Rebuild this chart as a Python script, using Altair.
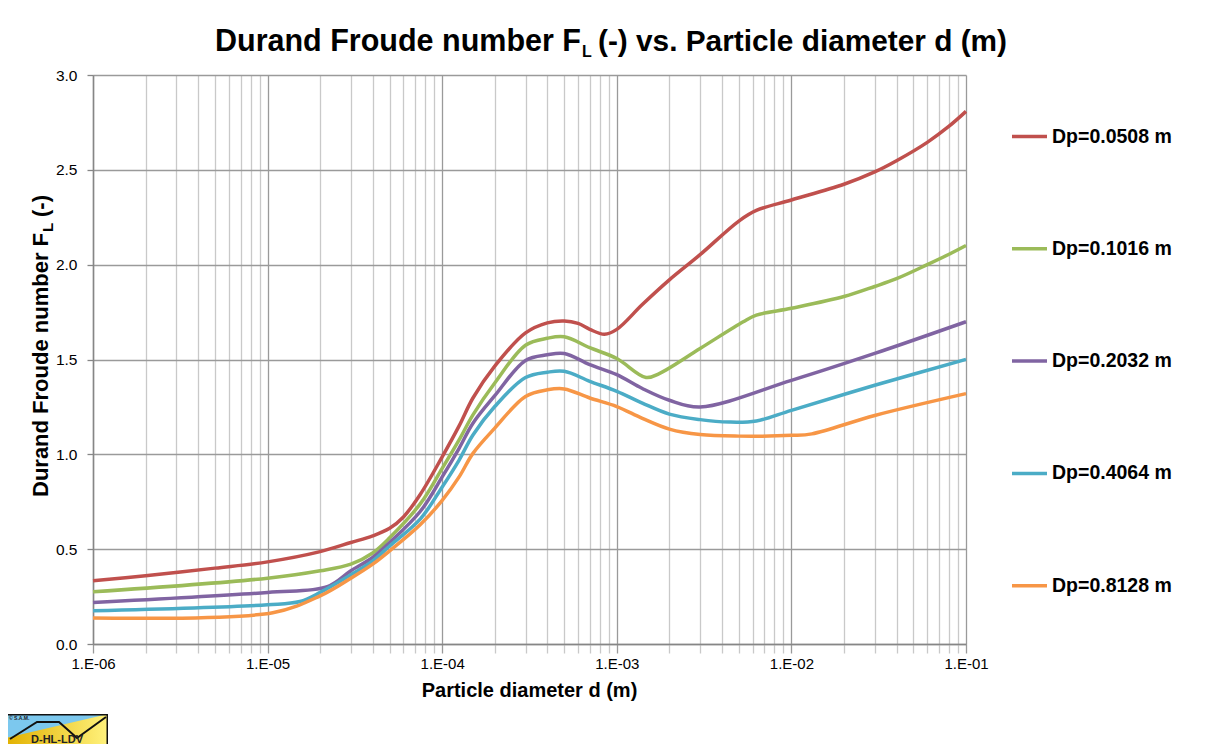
import base64
import altair as alt
import pandas as pd

# ---------------- data ----------------
series_names = ["Dp=0.0508 m", "Dp=0.1016 m", "Dp=0.2032 m", "Dp=0.4064 m", "Dp=0.8128 m"]
series_colors = ["#C0504D", "#9BBB59", "#8064A2", "#4BACC6", "#F79646"]

d_0508 = [1e-6, 2e-6, 5e-6, 1e-5, 2e-5, 3e-5, 4e-5, 5e-5, 6e-5, 7.5e-5, 1e-4, 1.25e-4,
          1.5e-4, 2e-4, 3e-4, 4e-4, 5e-4, 6e-4, 7e-4, 8.5e-4, 1e-3, 1.4e-3, 2e-3, 3e-3,
          5e-3, 6.3e-3, 1e-2, 2e-2, 3e-2, 4e-2, 6e-2, 8e-2, 1e-1]
F_0508 = [0.333, 0.36, 0.40, 0.433, 0.487, 0.535, 0.57, 0.61, 0.67, 0.79, 0.987, 1.15,
          1.297, 1.465, 1.64, 1.693, 1.703, 1.69, 1.659, 1.633, 1.659, 1.79, 1.92, 2.053,
          2.23, 2.286, 2.341, 2.424, 2.489, 2.548, 2.645, 2.73, 2.808]

d_1016 = [1e-6, 1e-5, 2e-5, 3e-5, 4e-5, 5e-5, 7.5e-5, 1e-4, 1.25e-4, 1.5e-4, 2e-4, 3e-4,
          4e-4, 5e-4, 7e-4, 1e-3, 1.47e-3, 1.75e-3, 3e-3, 5.3e-3, 6.3e-3, 1e-2, 2e-2,
          3e-2, 4e-2, 6e-2, 8e-2, 1e-1]
F_1016 = [0.275, 0.347, 0.386, 0.421, 0.48, 0.56, 0.74, 0.926, 1.076, 1.208, 1.376, 1.575,
          1.612, 1.62, 1.562, 1.505, 1.405, 1.426, 1.558, 1.699, 1.734, 1.770, 1.832,
          1.885, 1.926, 2.000, 2.055, 2.101]

d_2032 = [1e-6, 1e-5, 2.2e-5, 3e-5, 4e-5, 5e-5, 7.5e-5, 1e-4, 1.25e-4, 1.5e-4, 2e-4, 3e-4,
          4e-4, 5e-4, 7e-4, 1e-3, 1.4e-3, 2e-3, 3e-3, 1e-2, 3e-2, 1e-1]
F_2032 = [0.219, 0.272, 0.302, 0.386, 0.456, 0.535, 0.70, 0.881, 1.032, 1.164, 1.309, 1.495,
          1.525, 1.532, 1.473, 1.42, 1.347, 1.285, 1.25, 1.39, 1.532, 1.699]

d_4064 = [1e-6, 1e-5, 1.53e-5, 2e-5, 3e-5, 4e-5, 5e-5, 7.5e-5, 1e-4, 1.25e-4, 1.5e-4, 2e-4,
          3e-4, 4e-4, 5e-4, 7e-4, 1e-3, 1.4e-3, 2e-3, 3e-3, 4.4e-3, 6.3e-3, 1e-2, 3e-2, 1e-1]
F_4064 = [0.175, 0.207, 0.224, 0.272, 0.365, 0.438, 0.517, 0.66, 0.828, 0.97, 1.102, 1.252,
          1.405, 1.433, 1.438, 1.385, 1.332, 1.27, 1.212, 1.183, 1.17, 1.176, 1.232, 1.364, 1.501]

d_8128 = [1e-6, 1.07e-5, 2e-5, 3e-5, 4e-5, 5e-5, 7.5e-5, 1e-4, 1.25e-4, 1.5e-4, 2e-4, 3e-4,
          4e-4, 5e-4, 7e-4, 1e-3, 1.4e-3, 2e-3, 3e-3, 5e-3, 1e-2, 1.31e-2, 3e-2, 1e-1]
F_8128 = [0.137, 0.165, 0.254, 0.347, 0.421, 0.491, 0.63, 0.757, 0.881, 1.005, 1.138, 1.305,
          1.34, 1.345, 1.297, 1.252, 1.19, 1.133, 1.104, 1.096, 1.10, 1.108, 1.205, 1.32]

x_major = [1e-6, 1e-5, 1e-4, 1e-3, 1e-2, 1e-1]
x_minor = [m * 10.0 ** e for e in range(-6, -1) for m in range(2, 10)]
y_ticks = [0.0, 0.5, 1.0, 1.5, 2.0, 2.5, 3.0]

title_main, title_sub, title_rest = "Durand Froude number F", "L", "(-) vs. Particle diameter d (m)"
ytitle_main, ytitle_sub, ytitle_rest = "Durand Froude number F", "L", "(-)"
xtitle = "Particle diameter d (m)"

# ---------------- table ----------------
rows = []
for name, ds, fs in zip(series_names,
                        [d_0508, d_1016, d_2032, d_4064, d_8128],
                        [F_0508, F_1016, F_2032, F_4064, F_8128]):
    for i, (d, f) in enumerate(zip(ds, fs)):
        rows.append({"series": name, "d": d, "F": f, "order": i})
df = pd.DataFrame(rows)

FONT = "Liberation Sans"
W, H = 873, 569
MAJOR = "#9a9a9a"
MINOR = "#c9c9c9"

is_decade = "abs(log(datum.value)/LN10 - round(log(datum.value)/LN10)) < 0.001"
x_label_expr = (f"{is_decade} ? '1.E-' + pad(toString(-round(log(datum.value)/LN10)), 2, '0', 'left') : ''")

x_axis = alt.Axis(
    values=sorted(x_major + x_minor),
    labelExpr=x_label_expr,
    title=None,
    grid=True,
    gridColor={"condition": {"test": is_decade, "value": MAJOR}, "value": MINOR},
    gridWidth=1.3,
    tickColor={"condition": {"test": is_decade, "value": MAJOR}, "value": MINOR},
    tickSize=9, tickWidth=1.3,
    domainColor="#868686", domainWidth=1.5,
    labelFont=FONT, labelFontSize=15, labelColor="#000000",
    labelPadding=3, labelFlush=False, labelOverlap=False,
)
y_axis = alt.Axis(
    values=y_ticks, format=".1f", title=None,
    grid=True, gridColor=MAJOR, gridWidth=1.3,
    tickColor="#868686", tickSize=6, tickWidth=1.3,
    domainColor="#868686", domainWidth=1.5,
    labelFont=FONT, labelFontSize=15.5, labelColor="#000000", labelPadding=10,
)

lines = alt.Chart(df).mark_line(strokeWidth=3.5, interpolate="catmull-rom").encode(
    x=alt.X("d:Q", scale=alt.Scale(type="log", domain=[1e-6, 1e-1], nice=False), axis=x_axis),
    y=alt.Y("F:Q", scale=alt.Scale(domain=[0, 3], nice=False), axis=y_axis),
    color=alt.Color(
        "series:N", sort=series_names,
        scale=alt.Scale(domain=series_names, range=series_colors),
        legend=alt.Legend(
            title=None, orient="none", legendX=917, legendY=42, direction="vertical",
            symbolType="stroke", symbolSize=1225, symbolStrokeWidth=3.5,
            labelFont=FONT, labelFontSize=19.5, labelFontWeight="bold", labelColor="#000000",
            labelOffset=3, rowPadding=83.3, padding=0, labelLimit=0,
        ),
    ),
    order="order:Q",
)

def txt(s, **kw):
    enc = {k: alt.value(v) for k, v in kw.pop("pos").items()}
    return alt.Chart(pd.DataFrame({"t": [s]})).mark_text(font=FONT, fontWeight="bold",
                                                        color="#000000", **kw).encode(text="t:N", **enc)

t1 = txt(title_main, fontSize=30.5, align="right", baseline="alphabetic", pos={"x": 488, "y": -24})
t2 = txt(title_sub, fontSize=16, align="left", baseline="alphabetic", pos={"x": 489, "y": -18})
t3 = txt(title_rest, fontSize=29.8, align="left", baseline="alphabetic", pos={"x": 505, "y": -24})

xt = txt(xtitle, fontSize=20, align="center", baseline="alphabetic", pos={"x": 436.5, "y": 622})

y1 = txt(ytitle_main, fontSize=22, align="right", baseline="alphabetic", angle=270, pos={"x": -45, "y": 158})
y2 = txt(ytitle_sub, fontSize=15, align="left", baseline="alphabetic", angle=270, pos={"x": -40, "y": 157})
y3 = txt(ytitle_rest, fontSize=22, align="left", baseline="alphabetic", angle=270, pos={"x": -45, "y": 142})

logo_svg = """<svg xmlns='http://www.w3.org/2000/svg' width='102' height='30'>
<defs><linearGradient id='g' x1='0' x2='1' y1='0' y2='0'>
<stop offset='0' stop-color='#E2B100'/><stop offset='1' stop-color='#FFF27C'/></linearGradient></defs>
<rect x='0' y='0' width='102' height='30' fill='url(#g)'/>
<polygon points='0,0 102,0 0,24' fill='#7CC8EE'/>
<polyline points='4,25 31,8 53,8 71,24 100,3' fill='none' stroke='#111' stroke-width='2'/>
<text x='3' y='6' font-family='Liberation Sans' font-size='5' font-weight='bold' fill='#222'>© S.A.M.</text>
<text x='51' y='29' text-anchor='middle' font-family='Liberation Sans' font-size='11' font-weight='bold' fill='#222'>D-HL-LDV</text>
<rect x='0.75' y='0.75' width='100.5' height='32' fill='none' stroke='#111' stroke-width='1.5'/>
</svg>"""
logo_url = "data:image/svg+xml;base64," + base64.b64encode(logo_svg.encode("utf-8")).decode("ascii")
logo = alt.Chart(pd.DataFrame({"u": [logo_url]})).mark_image(
    width=102, height=30, align="left", baseline="top", aspect=False
).encode(url="u:N", x=alt.value(-87), y=alt.value(639))

chart = alt.layer(lines, t1, t2, t3, xt, y1, y2, y3, logo).properties(
    width=W, height=H,
    autosize=alt.AutoSizeParams(type="none"),
    padding={"left": 85, "top": 67, "right": 239, "bottom": 100},
    background="white",
).configure_view(stroke=None)

chart.save("out.html", embed_options={"renderer": "svg", "actions": False})
